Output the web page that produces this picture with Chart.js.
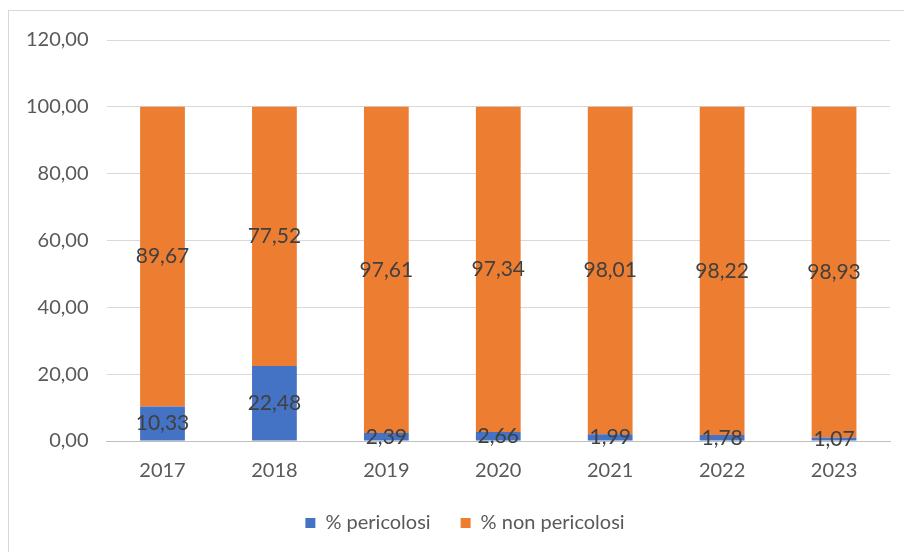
<!DOCTYPE html>
<html>
<head>
<meta charset="utf-8">
<script src="https://cdn.jsdelivr.net/npm/chart.js@4/dist/chart.umd.min.js"></script>
<style>
html,body{margin:0;padding:0;background:#fff;}
#wrap{position:absolute;left:0;top:0;width:904px;height:552px;}
#frame{position:absolute;left:8px;top:10px;width:900px;height:548px;border:1px solid #d9d9d9;pointer-events:none;}
</style>
</head>
<body>
<div id="wrap"><canvas id="c" width="904" height="552"></canvas></div>
<div id="frame"></div>
<script>
const categories = ["2017","2018","2019","2020","2021","2022","2023"];
const pericolosi = [10.33, 22.48, 2.39, 2.66, 1.99, 1.78, 1.07];
const nonPericolosi = [89.67, 77.52, 97.61, 97.34, 98.01, 98.22, 98.93];
const seriesNames = ["% pericolosi", "% non pericolosi"];

const FONT = "Lato, 'Liberation Sans', sans-serif";
const fmt = v => v.toFixed(2).replace('.', ',');

const labelPlugin = {
  id: 'segLabels',
  afterDatasetsDraw(chart) {
    const ctx = chart.ctx;
    ctx.save();
    ctx.font = "21px " + FONT;
    ctx.fillStyle = "#404040";
    ctx.textAlign = "center";
    ctx.textBaseline = "middle";
    chart.data.datasets.forEach((ds, i) => {
      const meta = chart.getDatasetMeta(i);
      meta.data.forEach((el, j) => {
        const y = (el.y + el.base) / 2;
        ctx.fillText(fmt(ds.data[j]), el.x, y);
      });
    });
    ctx.restore();
  }
};

// nudge the legend box (position only) to match the reference placement
const legendNudge = {
  id: 'legendNudge',
  afterLayout(chart) {
    const lg = chart.legend;
    if (!lg) return;
    lg.top -= 18;
    lg.bottom = chart.height;
    lg.height = lg.bottom - lg.top;
    lg.left += 16; lg.right += 16;
  }
};

new Chart(document.getElementById('c'), {
  type: 'bar',
  data: {
    labels: categories,
    datasets: [
      { label: seriesNames[0], data: pericolosi, backgroundColor: '#4472C4', barPercentage: 0.40, categoryPercentage: 1 },
      { label: seriesNames[1], data: nonPericolosi, backgroundColor: '#ED7D31', barPercentage: 0.40, categoryPercentage: 1 }
    ]
  },
  options: {
    responsive: false,
    animation: false,
    layout: { padding: { left: 8, right: 14, top: 40, bottom: 12 } },
    plugins: {
      legend: {
        position: 'bottom',
        maxHeight: 39,
        labels: { boxWidth: 10, boxHeight: 10, font: { size: 20, family: FONT }, color: '#595959', padding: 30 }
      },
      tooltip: { enabled: false }
    },
    scales: {
      x: {
        stacked: true,
        grid: { display: false, drawTicks: false },
        border: { display: true, color: '#bfbfbf' },
        ticks: { font: { size: 20, family: FONT }, color: '#595959', padding: 18 }
      },
      y: {
        stacked: true,
        min: 0, max: 120,
        border: { display: false },
        grid: { color: '#d9d9d9', drawTicks: false },
        ticks: { stepSize: 20, font: { size: 20, family: FONT }, color: '#595959', padding: 18, callback: v => fmt(v) }
      }
    }
  },
  plugins: [labelPlugin, legendNudge]
});
</script>
</body>
</html>
